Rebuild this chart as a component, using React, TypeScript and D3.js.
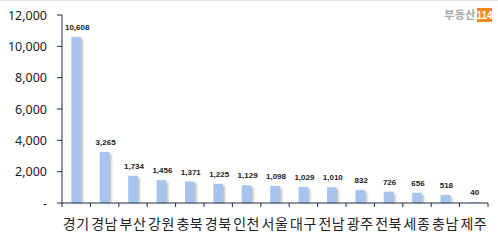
import React from "react";
import * as d3 from "d3";

const categories = ["경기", "경남", "부산", "강원", "충북", "경북", "인천", "서울", "대구", "전남", "광주", "전북", "세종", "충남", "제주"];
const values = [10608, 3265, 1734, 1456, 1371, 1225, 1129, 1098, 1029, 1010, 832, 726, 656, 518, 40];
const yTicks = [0, 2000, 4000, 6000, 8000, 10000, 12000];

const W = 498;
const H = 240;
const left = 62;
const right = 488;
const top = 15;
const bottom = 203;

export default function App() {
  const x = d3.scaleBand<string>().domain(categories).range([left, right]).paddingInner(0.66).paddingOuter(0.33);
  const y = d3.scaleLinear().domain([0, 12000]).range([bottom, top]);
  const fmt = d3.format(",");
  const step = x.step();
  const bw = x.bandwidth();
  const tickXs = d3.range(categories.length + 1).map((i) => left + i * step);

  return (
    <svg width={W} height={H} style={{ position: "absolute", left: 0, top: 0, background: "#fff" }}>
      <defs>
        <filter id="sh" x="-50%" y="-10%" width="200%" height="120%">
          <feGaussianBlur stdDeviation="0.8" />
        </filter>
      </defs>
      <line x1={0} x2={W} y1={0.5} y2={0.5} stroke="#e2e2e2" />
      {categories.map((c, i) => {
        const bx = x(c)!;
        const by = y(values[i]);
        return (
          <g key={c}>
            <rect x={bx + 2} y={by + 2} width={bw} height={Math.max(0, bottom - by - 2)} fill="#8c8c8c" opacity={0.55} filter="url(#sh)" />
            <rect x={bx} y={by} width={bw} height={bottom - by} fill="#a7c4ef" />
            <text
              x={bx + bw / 2 + 1}
              y={by - 7}
              textAnchor="middle"
              fontFamily="'Liberation Sans', Arial, sans-serif"
              fontWeight="bold"
              fontSize={8}
              fill="#222"
            >
              {fmt(values[i])}
            </text>
          </g>
        );
      })}
      <line x1={left} x2={left} y1={top} y2={bottom} stroke="#1e2a44" strokeWidth={1} />
      {yTicks.map((t) => (
        <g key={t}>
          <line x1={left - 5} x2={left} y1={y(t)} y2={y(t)} stroke="#1e2a44" />
          <text
            x={47}
            y={y(t) + 4.5}
            textAnchor="end"
            fontFamily="'Noto Sans', 'Liberation Sans', sans-serif"
            fontSize={12.5}
            fill="#1a1a1a"
          >
            {t === 0 ? "-" : fmt(t)}
          </text>
        </g>
      ))}
      <line x1={left} x2={right} y1={bottom} y2={bottom} stroke="#1e2a44" />
      {tickXs.map((tx, i) => (
        <line key={i} x1={tx} x2={tx} y1={bottom} y2={bottom + 4} stroke="#1e2a44" />
      ))}
      {categories.map((c) => (
        <text
          key={c}
          x={x(c)! + bw / 2}
          y={229}
          textAnchor="middle"
          fontFamily="'Noto Sans CJK KR', sans-serif"
          fontSize={14}
          letterSpacing={0.5}
          fill="#222"
        >
          {c}
        </text>
      ))}
      <text x={476} y={19} textAnchor="end" fontFamily="'Noto Sans CJK KR', sans-serif" fontWeight="bold" fontSize={11} letterSpacing={0.5} fill="#a8a8a8">
        부동산
      </text>
      <rect x={477} y={8} width={15} height={14} fill="#f08a1c" />
      <text x={484.5} y={19} textAnchor="middle" fontFamily="'Liberation Sans', Arial, sans-serif" fontWeight="bold" fontSize={10} fill="#fff">
        114
      </text>
    </svg>
  );
}
